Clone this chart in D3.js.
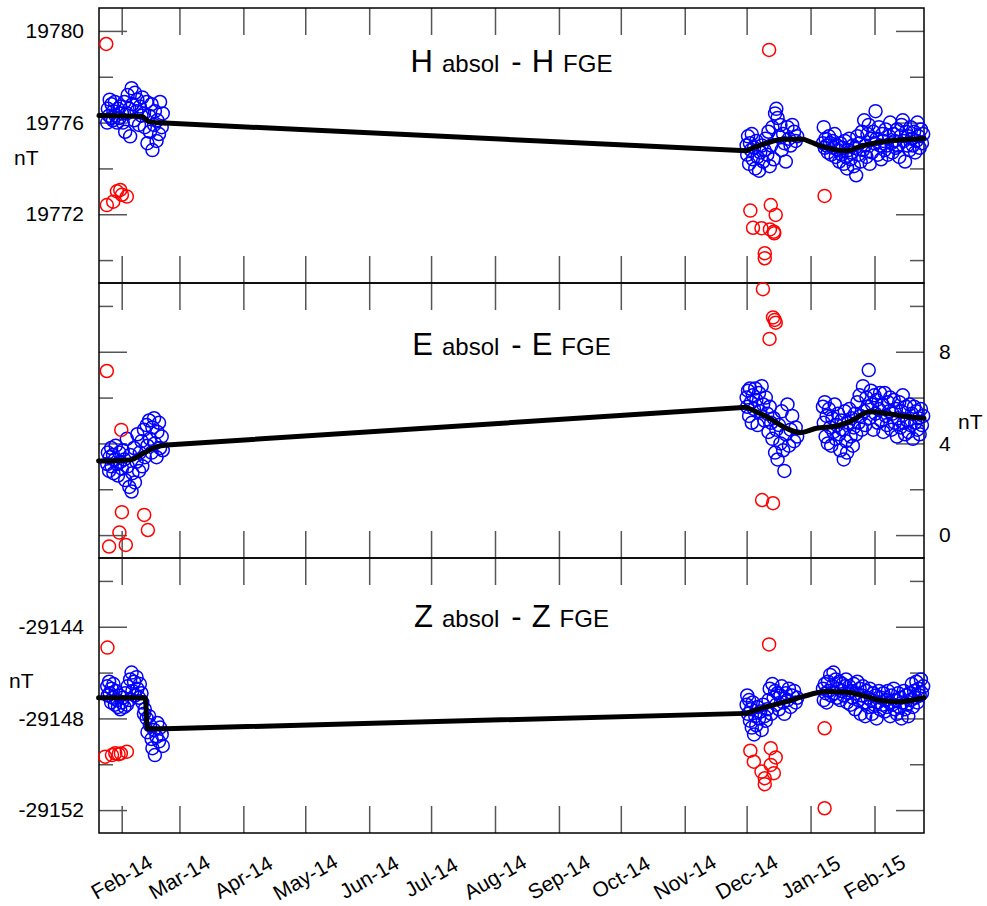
<!DOCTYPE html>
<html>
<head>
<meta charset="utf-8">
<title>Absolute minus FGE</title>
<script src="https://cdnjs.cloudflare.com/ajax/libs/d3/7.8.5/d3.min.js"></script>
<style>
  body { margin: 0; background: #fff; overflow: hidden; }
  svg { display: block; }
  text { font-family: "Liberation Sans", Arial, sans-serif; fill: #000; }
</style>
</head>
<body>
<script>
// observation days, counted from 2014-01-01
const dayEarly = [24, 24.3, 24.9, 25.2, 25.9, 26.1, 26.8, 27.0, 27.7, 28.1,
  28.8, 29.2, 29.9, 30.3, 31.1, 31.5, 32.3, 32.7, 33.5, 33.9,
  34.7, 35.1, 35.8, 36.2, 37.0, 37.4, 38.2, 38.6, 39.4, 39.8,
  40.6, 41.0, 41.8, 42.2, 43.1, 43.5, 44.3, 44.7, 45.5, 45.9,
  46.7, 47.1, 47.9, 48.3, 49.1, 49.6, 50.4, 50.9];
const dayLate = [334, 334.3, 334.7, 335.2, 335.6, 336.1, 336.5, 337, 337.6, 338.2,
  338.7, 339.3, 340, 340.6, 341.3, 342, 342.7, 343.3, 344, 344.6,
  345.2, 345.9, 346.5, 347.1, 347.8, 348.4, 349, 349.7, 350.4, 351,
  351.7, 352.3, 353, 353.8, 354.5, 355.3, 356.1, 357, 357.8, 358.5,
  371, 371.4, 371.9, 372.3, 372.8, 373.4, 373.9, 374.5, 375, 375.6,
  376.1, 376.7, 377.2, 377.8, 378.3, 378.9, 379.4, 380, 380.5, 381.1,
  381.6, 382.2, 382.7, 383.3, 383.8, 384.4, 384.9, 385.5, 386, 386.6,
  387.1, 387.7, 388.2, 388.8, 389.3, 389.9, 390.4, 391, 391.5, 392.1,
  392.6, 393.2, 393.7, 394.3, 394.8, 395.4, 395.9, 396.5, 397, 397.6,
  398.1, 398.7, 399.2, 399.8, 400.3, 400.9, 401.4, 402, 402.5, 403.1,
  403.6, 404.2, 404.7, 405.3, 405.8, 406.4, 406.9, 407.5, 408, 408.6,
  409.1, 409.7, 410.2, 410.8, 411.3, 411.9, 412.4, 413, 413.5, 414.1,
  414.6, 415.2, 415.7, 416.3, 416.8, 417.4, 417.9, 418.5, 419, 419.6];

// H absol - H FGE (nT)
const hEarly = [19776.0, 19776.6, 19776.3, 19777.0, 19776.2, 19776.8, 19776.1, 19776.5, 19776.9, 19776.3,
  19776.0, 19776.6, 19776.2, 19776.7, 19776.4, 19776.0, 19776.9, 19775.6, 19776.4, 19777.2,
  19776.6, 19775.4, 19777.5, 19776.8, 19776.1, 19777.3, 19776.5, 19777.0, 19775.9, 19776.7,
  19776.3, 19777.1, 19776.4, 19775.8, 19776.9, 19775.1, 19776.3, 19775.6, 19776.8, 19774.8,
  19775.9, 19776.5, 19775.2, 19776.1, 19775.5, 19776.9, 19775.8, 19776.4];
const hLate = [19775.0, 19774.6, 19775.4, 19774.2, 19775.1, 19774.8, 19775.5, 19774.4, 19774.9, 19774.0,
  19775.2, 19774.5, 19773.9, 19774.7, 19775.0, 19774.3, 19774.8, 19775.3, 19774.6, 19775.6,
  19774.1, 19775.0, 19775.8, 19774.4, 19776.4, 19776.6, 19776.2, 19775.4, 19775.9, 19774.8,
  19775.5, 19775.1, 19774.3, 19775.8, 19775.3, 19775.0, 19775.9, 19775.6, 19775.2, 19775.4,
  19775.1, 19775.8, 19774.9, 19775.3, 19775.0, 19774.7, 19775.4, 19775.1, 19774.6, 19775.2,
  19774.9, 19775.5, 19774.5, 19775.0, 19774.8, 19774.3, 19775.1, 19774.6, 19774.9, 19774.2,
  19775.2, 19774.5, 19774.0, 19774.8, 19775.3, 19774.4, 19774.7, 19775.0, 19774.1, 19774.9,
  19773.7, 19775.4, 19774.6, 19775.1, 19774.3, 19775.6, 19774.8, 19776.1, 19775.0, 19774.5,
  19775.5, 19775.9, 19774.2, 19775.3, 19774.7, 19775.6, 19775.1, 19776.5, 19775.3, 19774.6,
  19775.8, 19775.0, 19774.4, 19775.5, 19775.2, 19774.8, 19775.7, 19775.0, 19774.6, 19775.4,
  19776.0, 19775.1, 19774.7, 19775.5, 19775.2, 19774.9, 19775.7, 19775.0, 19774.5, 19775.4,
  19775.9, 19776.1, 19775.2, 19774.3, 19775.6, 19775.0, 19775.4, 19774.8, 19775.8, 19775.3,
  19775.0, 19775.6, 19774.7, 19775.2, 19776.0, 19775.4, 19774.9, 19775.7, 19775.1, 19775.5];

// E absol - E FGE (nT)
const eEarly = [3.1, 3.6, 2.8, 3.4, 3.8, 3.0, 3.5, 2.7, 3.3, 3.9,
  3.1, 2.6, 3.6, 3.2, 2.9, 3.7, 3.3, 2.4, 4.2, 3.0,
  2.1, 3.5, 1.9, 2.7, 3.8, 2.3, 3.2, 4.4, 2.8, 3.6,
  4.1, 3.0, 4.6, 3.4, 4.8, 3.9, 5.0, 4.2, 3.6, 4.7,
  5.1, 4.0, 3.4, 4.5, 4.9, 3.8, 4.3, 3.7];
const eLate = [6.0, 5.6, 6.3, 5.2, 6.4, 5.8, 4.9, 6.1, 5.5, 6.4,
  5.9, 4.8, 6.2, 5.4, 6.5, 5.7, 5.0, 6.0, 5.3, 4.5,
  5.6, 4.9, 4.2, 5.1, 3.6, 4.6, 3.3, 4.8, 4.0, 5.4,
  3.7, 2.8, 4.4, 5.7, 3.9, 4.6, 5.2, 4.1, 4.7, 4.3,
  5.6, 4.9, 5.8, 4.3, 5.2, 4.0, 5.5, 4.7, 3.9, 5.1,
  4.5, 5.7, 4.2, 4.8, 5.3, 4.4, 3.7, 5.0, 4.6, 3.3,
  5.4, 4.1, 3.6, 4.9, 5.5, 4.3, 5.1, 3.9, 4.7, 5.3,
  4.4, 5.8, 4.9, 6.1, 5.2, 4.6, 6.5, 5.4, 4.8, 6.0,
  5.6, 7.2, 5.1, 6.3, 5.7, 4.6, 6.1, 5.3, 5.9, 4.9,
  5.5, 6.2, 5.0, 5.7, 4.5, 6.2, 5.2, 4.8, 5.8, 5.4,
  6.0, 4.6, 5.3, 5.9, 4.9, 5.5, 4.3, 5.1, 5.8, 4.7,
  5.4, 6.1, 4.9, 4.4, 5.6, 5.0, 4.5, 5.7, 4.8, 5.3,
  4.2, 5.6, 4.9, 5.4, 4.6, 5.1, 4.4, 5.5, 4.8, 5.2];

// Z absol - Z FGE (nT)
const zEarly = [-29146.6, -29147.0, -29146.4, -29146.9, -29147.3, -29146.7, -29147.1, -29146.5, -29147.4, -29146.8,
  -29147.2, -29147.5, -29147.0, -29147.6, -29147.3, -29147.1, -29147.5, -29146.9, -29147.4, -29146.6,
  -29147.2, -29146.3, -29146.0, -29146.8, -29146.4, -29147.0, -29146.2, -29146.7, -29147.1, -29146.5,
  -29146.9, -29147.3, -29147.8, -29147.6, -29148.0, -29148.6, -29147.9, -29148.3, -29148.9, -29149.3,
  -29148.5, -29149.6, -29148.8, -29148.2, -29149.0, -29148.4, -29148.7, -29149.2];
const zLate = [-29147.4, -29147.0, -29147.8, -29147.2, -29148.1, -29147.6, -29148.4, -29147.3, -29148.7, -29147.9,
  -29148.3, -29147.5, -29148.0, -29147.7, -29148.5, -29147.4, -29147.9, -29148.1, -29147.6, -29147.2,
  -29146.7, -29147.8, -29146.5, -29147.1, -29146.8, -29147.4, -29146.9, -29147.6, -29147.0, -29146.6,
  -29147.3, -29147.8, -29146.9, -29147.2, -29146.7, -29147.5, -29147.0, -29146.8, -29147.3, -29147.1,
  -29146.7, -29147.2, -29146.5, -29146.9, -29147.3, -29146.4, -29146.8, -29146.1, -29147.0, -29146.6,
  -29146.0, -29146.9, -29146.3, -29147.1, -29146.7, -29146.4, -29147.2, -29146.8, -29146.5, -29147.0,
  -29146.6, -29146.3, -29147.3, -29146.9, -29146.6, -29147.4, -29146.8, -29147.1, -29146.5, -29147.6,
  -29146.9, -29146.4, -29147.2, -29146.7, -29147.8, -29147.0, -29146.6, -29147.3, -29147.9, -29146.8,
  -29147.1, -29147.5, -29146.7, -29147.2, -29147.8, -29146.9, -29147.4, -29147.0, -29148.0, -29147.3,
  -29146.8, -29147.6, -29147.1, -29147.4, -29146.9, -29147.7, -29147.2, -29147.5, -29146.8, -29147.3,
  -29147.9, -29147.0, -29147.4, -29146.7, -29147.6, -29147.2, -29147.8, -29146.9, -29147.5, -29147.1,
  -29148.0, -29147.3, -29146.8, -29147.6, -29147.0, -29147.4, -29147.9, -29146.9, -29147.2, -29146.5,
  -29147.5, -29146.8, -29147.1, -29146.4, -29147.3, -29146.7, -29147.0, -29146.3, -29146.9, -29146.6];

// rejected observations (red)
const redDayH = [23.5, 23.8, 26.9, 28.7, 30.3, 31.1, 33.5, 344.9, 335.8, 345.7, 348.1, 337.1, 341.2, 345.3, 347.2, 347.4, 342.8, 342.8, 371.8];
const redH = [19779.43, 19772.4, 19772.55, 19773.0, 19773.06, 19772.85, 19772.77, 19779.17, 19772.16, 19772.4, 19771.97, 19771.41, 19771.39, 19771.34, 19771.24, 19771.17, 19770.3, 19770.08, 19772.8];
const redDayE = [23.8, 30.8, 31.1, 29.9, 24.9, 33.0, 41.9, 43.7, 341.9, 346.8, 347.6, 348.1, 345.1, 341.5, 346.8];
const redE = [7.16, 4.59, 1.0, 0.11, -0.5, -0.43, 0.88, 0.22, 10.73, 9.5, 9.39, 9.27, 8.56, 1.53, 1.39];
const redDayZ = [24.1, 23.0, 26.3, 27.9, 29.5, 30.6, 33.5, 344.9, 335.8, 345.7, 348.1, 337.5, 341.2, 345.7, 347.2, 342.8, 342.8, 371.8, 371.8];
const redZ = [-29144.91, -29149.67, -29149.6, -29149.52, -29149.56, -29149.53, -29149.45, -29144.77, -29149.41, -29149.3, -29149.7, -29149.89, -29150.32, -29150.03, -29150.39, -29150.61, -29150.87, -29148.43, -29151.92];

// adopted baselines (black)
const baseDayH = [20, 41, 43, 44.5, 52, 333.9, 343.6, 351.6, 361.3, 364.6, 371, 382.4, 388.8, 396.9, 408.2, 420];
const baseH = [19776.31, 19776.27, 19776.11, 19776.03, 19775.98, 19774.77, 19775.10, 19775.27, 19775.27, 19775.17, 19774.95, 19774.77, 19774.95, 19775.12, 19775.24, 19775.31];
const baseDayE = [19.8, 35.1, 41.6, 48.1, 52.9, 333.9, 343.6, 353.3, 359.7, 367.8, 377.5, 384, 393.7, 401.7, 411.4, 420];
const baseE = [3.23, 3.28, 3.57, 3.86, 3.93, 5.58, 5.17, 4.66, 4.47, 4.66, 4.76, 4.95, 5.38, 5.31, 5.17, 5.10];
const baseDayZ = [19.8, 42.4, 43.5, 52, 333.9, 343.6, 353.3, 361.2, 372.7, 382.4, 392.1, 400, 408.2, 420];
const baseZ = [-29147.10, -29147.10, -29148.45, -29148.45, -29147.78, -29147.49, -29147.27, -29147.05, -29146.83, -29146.86, -29147.05, -29147.23, -29147.27, -29147.10];

// axes
const hDomain = [19769, 19781], hTicks = [19772, 19776, 19780], hMinor = [19770, 19774, 19778];
const eDomain = [-1, 11], eTicks = [0, 4, 8], eMinor = [2, 6, 10];
const zDomain = [-29153, -29141], zTicks = [-29152, -29148, -29144], zMinor = [-29150, -29146, -29142];
const dayStart = 20, dayEnd = 420;

const w = 987, h = 906;
const left = 99, right = 924, panelH = 275;
const t0 = Date.UTC(2014, 0, 1);
const toDate = d => new Date(t0 + d * 864e5);

const svg = d3.select("body").append("svg")
  .attr("width", w).attr("height", h);

const x = d3.scaleUtc()
  .domain([toDate(dayStart), toDate(dayEnd)])
  .range([left, right]);
const months = x.ticks(d3.utcMonth.every(1));

const panels = [
  { sym: "H", top: 8, domain: hDomain, major: hTicks, minor: hMinor, side: "left", titleY: 72, unit: [14, 158],
    early: hEarly, late: hLate, redDay: redDayH, red: redH, baseDay: baseDayH, base: baseH },
  { sym: "E", top: 283, domain: eDomain, major: eTicks, minor: eMinor, side: "right", titleY: 355, unit: [958, 422],
    early: eEarly, late: eLate, redDay: redDayE, red: redE, baseDay: baseDayE, base: baseE },
  { sym: "Z", top: 558, domain: zDomain, major: zTicks, minor: zMinor, side: "left", titleY: 627, unit: [9, 681],
    early: zEarly, late: zLate, redDay: redDayZ, red: redZ, baseDay: baseDayZ, base: baseZ }
];

function tickStyle(sel) {
  sel.select(".domain").remove();
  sel.selectAll(".tick line").attr("stroke", "#555").attr("stroke-width", 1.5);
}

panels.forEach(p => {
  const top = p.top, bottom = top + panelH;
  const y = d3.scaleLinear().domain(p.domain).range([bottom, top]);
  const g = svg.append("g");

  // month ticks, top and bottom, pointing inward
  g.append("g").attr("transform", `translate(0,${top})`)
    .call(d3.axisBottom(x).tickValues(months).tickSize(27).tickFormat(""))
    .call(tickStyle);
  g.append("g").attr("transform", `translate(0,${bottom})`)
    .call(d3.axisTop(x).tickValues(months).tickSize(27).tickFormat(""))
    .call(tickStyle);

  // value ticks on both sides
  [[p.major, 28], [p.minor, 14]].forEach(([vals, len]) => {
    g.append("g").attr("transform", `translate(${left},0)`)
      .call(d3.axisRight(y).tickValues(vals).tickSize(len).tickFormat(""))
      .call(tickStyle);
    g.append("g").attr("transform", `translate(${right},0)`)
      .call(d3.axisLeft(y).tickValues(vals).tickSize(len).tickFormat(""))
      .call(tickStyle);
  });

  // tick labels (plain hyphen for negatives)
  const axis = p.side === "left" ? d3.axisLeft(y) : d3.axisRight(y);
  g.append("g").attr("transform", `translate(${p.side === "left" ? left : right},0)`)
    .call(axis.tickValues(p.major).tickSize(0).tickPadding(15).tickFormat(d => String(d)))
    .call(s => s.select(".domain").remove())
    .selectAll("text").attr("font-size", 21).attr("font-family", "Liberation Sans, Arial, sans-serif").attr("fill", "#000");

  g.append("text").attr("x", p.unit[0]).attr("y", p.unit[1]).attr("dy", "0.35em")
    .attr("font-size", 21).text("nT");

  // frame
  g.append("rect").attr("x", left).attr("y", top).attr("width", right - left).attr("height", panelH)
    .attr("fill", "none").attr("stroke", "#000").attr("stroke-width", 1.5);

  // title
  const t = g.append("text").attr("x", (left + right) / 2).attr("y", p.titleY).attr("text-anchor", "middle");
  t.append("tspan").attr("font-size", 31).text(p.sym);
  t.append("tspan").attr("font-size", 24).attr("dx", 9).text("absol");
  t.append("tspan").attr("font-size", 31).attr("dx", 12).text("-");
  t.append("tspan").attr("font-size", 31).attr("dx", 10).text(p.sym);
  t.append("tspan").attr("font-size", 24).attr("dx", 9).text("FGE");

  // accepted observations
  const obs = dayEarly.map((d, i) => [d, p.early[i]])
    .concat(dayLate.map((d, i) => [d, p.late[i]]));
  g.append("g").selectAll("circle").data(obs).join("circle")
    .attr("cx", d => x(toDate(d[0])))
    .attr("cy", d => y(d[1]))
    .attr("r", 6.5)
    .attr("fill", "none").attr("stroke", "#0000ff").attr("stroke-width", 1.5);

  // rejected observations
  g.append("g").selectAll("circle").data(p.redDay.map((d, i) => [d, p.red[i]])).join("circle")
    .attr("cx", d => x(toDate(d[0])))
    .attr("cy", d => y(d[1]))
    .attr("r", 6.5)
    .attr("fill", "none").attr("stroke", "#ff0000").attr("stroke-width", 1.5);

  // baseline: smooth within each observing campaign, straight across the gap
  const pts = p.baseDay.map((d, i) => [d, p.base[i]]);
  let gi = 0;
  pts.forEach((d, i) => {
    if (i > 0 && d[0] - pts[i - 1][0] > pts[gi + 1][0] - pts[gi][0]) gi = i - 1;
  });
  const smooth = d3.line().x(d => x(toDate(d[0]))).y(d => y(d[1])).curve(d3.curveMonotoneX);
  const straight = d3.line().x(d => x(toDate(d[0]))).y(d => y(d[1]));
  [[smooth, pts.slice(0, gi + 1)], [straight, pts.slice(gi, gi + 2)], [smooth, pts.slice(gi + 1)]]
    .forEach(([ln, seg]) => {
      g.append("path").datum(seg)
        .attr("d", ln)
        .attr("fill", "none").attr("stroke", "#000").attr("stroke-width", 5)
        .attr("stroke-linecap", "round").attr("stroke-linejoin", "round");
    });
});

// month labels
svg.append("g").selectAll("text").data(months).join("text")
  .attr("transform", d => `translate(${x(d)},877) rotate(-30)`)
  .attr("text-anchor", "middle")
  .attr("dy", "0.35em")
  .attr("font-size", 21)
  .text(d3.utcFormat("%b-%y"));
</script>
</body>
</html>
